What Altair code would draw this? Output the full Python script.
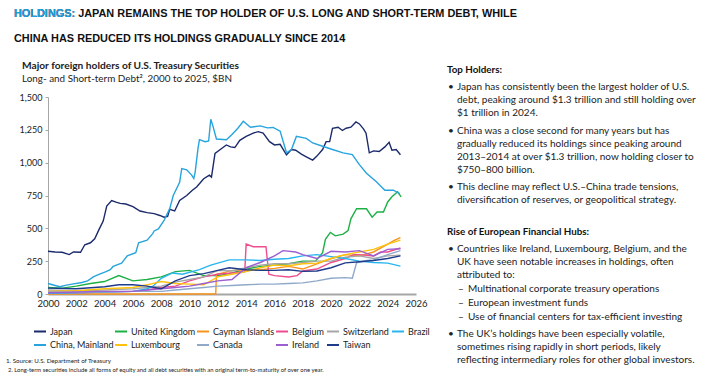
import altair as alt
import pandas as pd

# ---------------- data ----------------
series_order = ["Japan", "United Kingdom", "Cayman Islands", "Belgium", "Switzerland", "Brazil",
                "China, Mainland", "Luxembourg", "Canada", "Ireland", "Taiwan"]
series_colors = ["#1B2A6B", "#1DB045", "#F7941D", "#EE4D8E", "#A6A6A6", "#29B6EE",
                 "#27A4DD", "#FFC20E", "#8FA9C9", "#9B5FD0", "#1F3C8C"]

japan_x = [2000.0, 2000.5, 2001.0, 2001.5, 2001.8, 2002.3, 2002.6, 2003.0, 2003.3, 2003.6, 2003.9, 2004.15,
           2004.5, 2004.8, 2005.1, 2005.5, 2006.0, 2006.5, 2007.0, 2007.5, 2007.9, 2008.2, 2008.45, 2008.6,
           2008.95, 2009.3, 2009.8, 2010.2, 2010.5, 2011.0, 2011.4, 2011.55, 2011.8, 2012.1, 2012.6, 2012.9,
           2013.2, 2013.55, 2014.0, 2014.5, 2014.85, 2015.2, 2015.65, 2016.0, 2016.4, 2016.85, 2017.2, 2017.5,
           2017.9, 2018.25, 2018.7, 2019.0, 2019.4, 2019.65, 2019.9, 2020.1, 2020.5, 2020.8, 2021.06, 2021.4,
           2021.76, 2022.0, 2022.3, 2022.47, 2022.7, 2023.0, 2023.4, 2023.8, 2024.1, 2024.3, 2024.6, 2024.9]
japan_v = [325, 320, 318, 300, 320, 318, 375, 390, 420, 490, 555, 670,
           712, 700, 690, 685, 665, 632, 620, 612, 598, 585, 590, 645,
           632, 712, 750, 790, 815, 878, 905, 890, 1070, 1095, 1135, 1120,
           1115, 1170, 1200, 1225, 1236, 1225, 1160, 1135, 1140, 1060, 1100, 1095,
           1065, 1045, 1020, 1050, 1100, 1160, 1160, 1262, 1270, 1245, 1262, 1270,
           1310, 1295, 1255, 1224, 1075, 1090, 1085, 1120, 1155, 1095, 1100, 1060]

china_x = [2000.0, 2000.5, 2000.85, 2001.3, 2001.8, 2002.4, 2002.8, 2003.2, 2003.6, 2004.1, 2004.4, 2004.6,
           2005.2, 2005.6, 2006.2, 2006.4, 2007.0, 2007.4, 2007.5, 2007.8, 2008.2, 2008.6, 2008.85, 2009.3,
           2009.45, 2009.8, 2010.15, 2010.3, 2010.4, 2010.6, 2010.7, 2011.1, 2011.35, 2011.5, 2011.65, 2011.9,
           2012.6, 2013.0, 2013.4, 2013.8, 2014.3, 2015.0, 2015.5, 2015.9, 2016.4, 2016.85, 2017.2, 2017.55,
           2018.25, 2018.7, 2019.4, 2020.1, 2020.85, 2021.5, 2022.0, 2022.5, 2023.2, 2023.8, 2024.4, 2024.85]
china_v = [80, 65, 55, 68, 77, 88, 100, 130, 150, 170, 185, 210,
           235, 290, 315, 390, 410, 460, 480, 495, 560, 650, 750, 850,
           955, 945, 905, 880, 930, 1110, 1175, 1160, 1165, 1330, 1280, 1180,
           1175, 1215, 1260, 1315, 1270, 1280, 1265, 1268, 1240, 1075, 1100, 1200,
           1185, 1150, 1125, 1100, 1075, 1062, 985, 920, 855, 790, 790, 765]

uk_x = [2000, 2001, 2002, 2003, 2004, 2005, 2006, 2007, 2008, 2009, 2010, 2011, 2012, 2013, 2014, 2015, 2016,
        2017, 2018, 2018.9, 2019.4, 2019.6, 2019.95, 2020.3, 2020.85, 2021.2, 2021.4, 2021.8, 2022.5, 2022.9,
        2023.25, 2023.7, 2024.0, 2024.3, 2024.7, 2024.95]
uk_v = [50, 45, 60, 80, 95, 140, 100, 110, 130, 170, 180, 140, 140, 160, 190, 210, 220,
        230, 250, 250, 314, 417, 469, 443, 456, 482, 572, 649, 649, 585,
        624, 624, 701, 740, 778, 740]

cayman_x = [2000, 2011.85, 2011.9, 2012.5, 2013, 2014, 2015, 2016, 2017, 2018, 2019, 2020, 2021, 2022, 2023,
            2024, 2024.5, 2024.9]
cayman_v = [0, 0, 150, 165, 180, 180, 185, 195, 210, 190, 230, 270, 300, 290, 320, 380, 410, 430]

belgium_x = [2000, 2002, 2004, 2006, 2007, 2008, 2009, 2010, 2011, 2012, 2013, 2013.9, 2014.0, 2014.5, 2015.4,
             2015.6, 2016.0, 2017.0, 2017.6, 2018, 2019, 2020, 2021, 2021.6, 2022, 2023, 2023.5, 2024, 2024.9]
belgium_v = [5, 10, 15, 20, 30, 50, 60, 100, 130, 150, 160, 170, 380, 360, 360,
             150, 140, 130, 140, 175, 190, 240, 270, 300, 300, 290, 320, 320, 350]

swiss_x = [2000, 2002, 2004, 2006, 2007, 2008, 2009, 2010, 2011, 2012, 2013, 2014, 2015, 2016, 2017, 2018,
           2019, 2020, 2021, 2022, 2023, 2024, 2024.9]
swiss_v = [30, 25, 30, 40, 50, 60, 90, 110, 130, 180, 175, 200, 220, 230, 230, 240,
           250, 250, 280, 290, 270, 290, 295]

brazil_x = [2000, 2002, 2004, 2006, 2007, 2007.4, 2008, 2008.8, 2009.5, 2010.7, 2011.5, 2012.8, 2014, 2015,
            2016, 2017, 2018, 2019, 2020, 2021, 2022, 2023, 2024, 2024.9]
brazil_v = [5, 10, 15, 20, 40, 57, 120, 160, 150, 185, 220, 260, 260, 255,
            265, 270, 290, 300, 285, 270, 250, 240, 235, 212]

lux_x = [2000, 2002, 2004, 2006, 2007, 2008, 2009, 2010, 2011, 2012, 2013, 2014, 2015, 2016, 2017, 2018,
         2019, 2020, 2021, 2022, 2023, 2024, 2024.9]
lux_v = [20, 25, 40, 50, 70, 95, 80, 75, 70, 130, 150, 170, 200, 220, 215, 230,
         235, 270, 300, 320, 340, 380, 410]

canada_x = [2000, 2002, 2004, 2006, 2008, 2009, 2010, 2011, 2012, 2013, 2014, 2015, 2016, 2017, 2018, 2019,
            2020, 2021, 2021.5, 2021.8, 2022.5, 2023, 2024, 2024.9]
canada_v = [15, 12, 15, 20, 20, 30, 40, 50, 60, 65, 70, 75, 75, 80, 85, 100,
            120, 125, 120, 237, 255, 260, 300, 330]

ireland_x = [2000, 2002, 2004, 2006, 2007, 2008, 2009, 2010, 2011, 2012, 2013, 2014, 2015, 2016, 2016.6,
             2017.5, 2018, 2019, 2020, 2021, 2022, 2023, 2024, 2024.9]
ireland_v = [10, 15, 20, 20, 30, 40, 50, 60, 80, 100, 110, 200, 240, 290, 330,
             320, 300, 270, 325, 320, 330, 290, 340, 345]

taiwan_x = [2000, 2002, 2004, 2005, 2006, 2007, 2008, 2009, 2010, 2011, 2012, 2012.8, 2014, 2015, 2016, 2017,
            2018, 2019, 2020, 2021, 2022, 2023, 2024, 2024.9]
taiwan_v = [45, 40, 55, 70, 70, 60, 40, 100, 140, 155, 180, 200, 185, 180, 180, 185,
            172, 175, 200, 237, 245, 255, 270, 290]

x_ticks = list(range(2000, 2027, 2))
y_ticks = [0, 250, 500, 750, 1000, 1250, 1500]

series_data = {
    "Japan": (japan_x, japan_v), "United Kingdom": (uk_x, uk_v), "Cayman Islands": (cayman_x, cayman_v),
    "Belgium": (belgium_x, belgium_v), "Switzerland": (swiss_x, swiss_v), "Brazil": (brazil_x, brazil_v),
    "China, Mainland": (china_x, china_v), "Luxembourg": (lux_x, lux_v), "Canada": (canada_x, canada_v),
    "Ireland": (ireland_x, ireland_v), "Taiwan": (taiwan_x, taiwan_v),
}
rows = []
for name, (xs, vs) in series_data.items():
    for xv, vv in zip(xs, vs):
        rows.append({"series": name, "year": xv, "value": vv})
df = pd.DataFrame(rows)

# ---------------- layout ----------------
OX, OY = 48, 97          # plot origin on the page
PW, PH = 368, 197        # plot size
BODY = "Lato"

line = alt.Chart(df).mark_line(strokeWidth=1.4).encode(
    x=alt.X("year:Q", scale=alt.Scale(domain=[2000, 2026], nice=False, zero=False),
            axis=alt.Axis(values=x_ticks, format="d", title=None, grid=False, ticks=False,
                          domainColor="#a6a6a6", domainWidth=2, labelFont=BODY, labelFontSize=9.5,
                          labelColor="#222222", labelPadding=4, labelFlush=False)),
    y=alt.Y("value:Q", scale=alt.Scale(domain=[0, 1500], nice=False),
            axis=alt.Axis(values=y_ticks, format=",d", title=None, grid=False, ticks=True, tickSize=3,
                          tickColor="#a6a6a6", domainColor="#a6a6a6", labelFont=BODY, labelFontSize=9,
                          labelColor="#222222", labelPadding=3)),
    color=alt.Color("series:N", scale=alt.Scale(domain=series_order, range=series_colors), legend=None),
)


def txt(text, x, y, size=9.0, weight="normal", color="#222222", font=BODY):
    return alt.Chart(pd.DataFrame({"t": [text]})).mark_text(
        align="left", baseline="middle", font=font, fontSize=size, fontWeight=weight, color=color
    ).encode(text="t:N", x=alt.value(x - OX), y=alt.value(y - OY))


def hline(x1, x2, y, color, width=2.0):
    return alt.Chart(pd.DataFrame({"t": [0]})).mark_rule(color=color, strokeWidth=width).encode(
        x=alt.value(x1 - OX), x2=alt.value(x2 - OX), y=alt.value(y - OY))


TITLE_FONT = "Liberation Sans"
layers = [line]

title1 = "HOLDINGS: JAPAN REMAINS THE TOP HOLDER OF U.S. LONG AND SHORT-TERM DEBT, WHILE"
title2 = "CHINA HAS REDUCED ITS HOLDINGS GRADUALLY SINCE 2014"
layers.append(txt(title1, 14, 14, 10.9, "bold", "#111111", TITLE_FONT))
layers.append(txt("HOLDINGS:", 14, 14, 10.9, "bold", "#1DA1E2", TITLE_FONT))
layers.append(txt(title2, 14, 38.5, 10.9, "bold", "#111111", TITLE_FONT))

layers.append(txt("Major foreign holders of U.S. Treasury Securities", 22, 66, 10.2, "bold"))
layers.append(txt("Long- and Short-term Debt², 2000 to 2025, $BN", 22, 79, 9.9))

# legend (drawn manually so that its columns sit where the reference has them)
leg_cols = [34, 115, 197, 276, 327, 392]
leg_rows = [331.5, 345]
for i, (name, col) in enumerate(zip(series_order, series_colors)):
    lx = leg_cols[i % 6]
    ly = leg_rows[i // 6]
    layers.append(hline(lx, lx + 12, ly, col, 2))
    layers.append(txt(name, lx + 16, ly, 9.0))

layers.append(txt("1. Source: U.S. Department of Treasury", 6, 361, 6.2))
layers.append(txt("2. Long-term securities include all forms of equity and all debt securities with an original "
                  "term-to-maturity of over one year.", 8, 370, 5.9))

right = [
    ("Top Holders:", 447, 70, "h"),
    ("Japan has consistently been the largest holder of U.S.", 457, 87, "b"),
    ("debt, peaking around $1.3 trillion and still holding over", 457, 100, "t"),
    ("$1 trillion in 2024.", 457, 113, "t"),
    ("China was a close second for many years but has", 457, 131, "b"),
    ("gradually reduced its holdings since peaking around", 457, 144, "t"),
    ("2013–2014 at over $1.3 trillion, now holding closer to", 457, 157, "t"),
    ("$750–800 billion.", 457, 170, "t"),
    ("This decline may reflect U.S.–China trade tensions,", 457, 187, "b"),
    ("diversification of reserves, or geopolitical strategy.", 457, 200, "t"),
    ("Rise of European Financial Hubs:", 447, 232, "h"),
    ("Countries like Ireland, Luxembourg, Belgium, and the", 457, 249, "b"),
    ("UK have seen notable increases in holdings, often", 457, 262, "t"),
    ("attributed to:", 457, 275, "t"),
    ("Multinational corporate treasury operations", 468, 289, "d"),
    ("European investment funds", 468, 303, "d"),
    ("Use of financial centers for tax-efficient investing", 468, 317, "d"),
    ("The UK’s holdings have been especially volatile,", 457, 334, "b"),
    ("sometimes rising rapidly in short periods, likely", 457, 347, "t"),
    ("reflecting intermediary roles for other global investors.", 457, 360, "t"),
]
for text, x, y, kind in right:
    if kind == "h":
        layers.append(txt(text, x, y, 9.8, "bold", "#111111"))
    else:
        layers.append(txt(text, x, y, 10.0))
        if kind == "b":
            layers.append(txt("•", 448, y, 10.0))
        if kind == "d":
            layers.append(txt("–", 458, y, 10.0))

chart = alt.layer(*layers).properties(
    width=PW, height=PH,
    autosize=alt.AutoSizeParams(type="none"),
    padding={"left": OX, "top": OY, "right": 713 - OX - PW, "bottom": 375 - OY - PH},
    background="white",
).configure_view(stroke=None)

chart.save("out.html", embed_options={"renderer": "svg", "actions": False})
